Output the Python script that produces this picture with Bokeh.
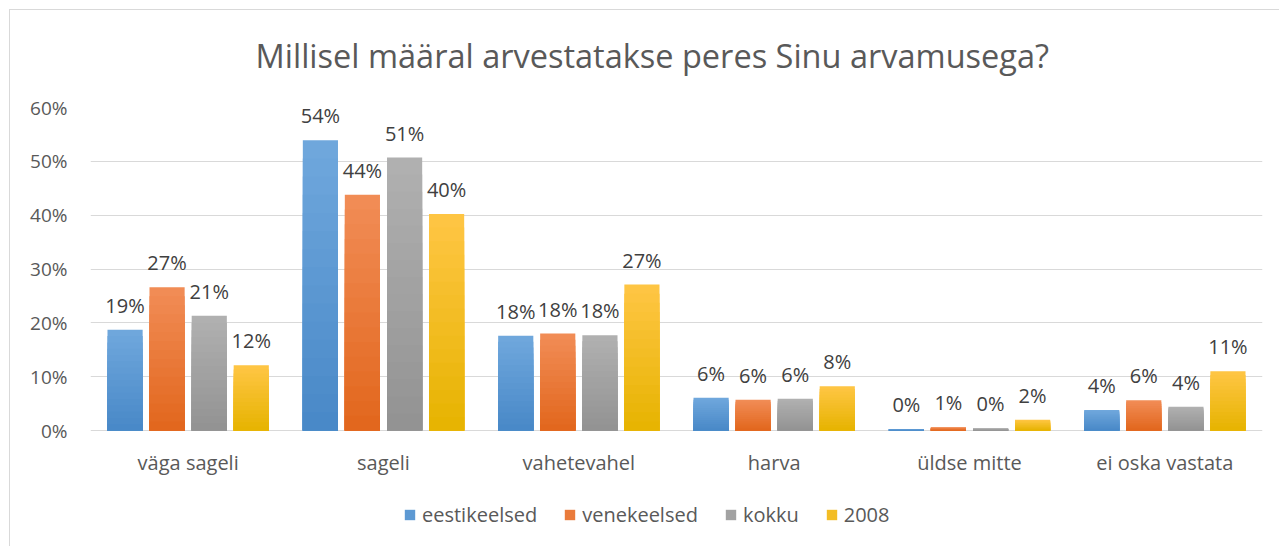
from bokeh.plotting import figure
from bokeh.models import ColumnDataSource, FactorRange, Legend, LegendItem, NumeralTickFormatter, FixedTicker
from bokeh.transform import dodge
from bokeh.core.properties import value
from bokeh.embed import file_html
from bokeh.resources import INLINE

categories = ["väga sageli", "sageli", "vahetevahel", "harva", "üldse mitte", "ei oska vastata"]
series = ["eestikeelsed", "venekeelsed", "kokku", "2008"]
eestikeelsed = [0.187, 0.539, 0.176, 0.061, 0.003, 0.038]
venekeelsed = [0.266, 0.438, 0.180, 0.057, 0.006, 0.056]
kokku = [0.213, 0.507, 0.177, 0.059, 0.004, 0.044]
y2008 = [0.121, 0.402, 0.271, 0.082, 0.020, 0.110]
# bar gradient: (bottom colour, top colour) per series
colors_bottom = ["#4888c7", "#e2661c", "#929292", "#e6b300"]
colors_top = ["#70a8dd", "#f18d57", "#b1b1b1", "#ffc645"]
yticks = [0, 0.1, 0.2, 0.3, 0.4, 0.5, 0.6]

FONT = "Open Sans"
W, H = 1279, 546
TOP, BOTTOM_PAD, LEFT, RIGHT = 107, 8, 90, 17
ZERO_Y = 430  # pixel row of the 0% line
YMAX = 0.6
ymin = -YMAX * ((H - BOTTOM_PAD) - ZERO_Y) / (ZERO_Y - TOP)
NSTEP = 16


def blend(c1, c2, t):
    a = [int(c1[i:i + 2], 16) for i in (1, 3, 5)]
    b = [int(c2[i:i + 2], 16) for i in (1, 3, 5)]
    return "#%02x%02x%02x" % tuple(round(x + (y - x) * t) for x, y in zip(a, b))


data = {"cat": categories, "base": [0.0] * len(categories)}
for name, vals in zip(series, [eestikeelsed, venekeelsed, kokku, y2008]):
    data[name] = vals
    data[name + "_lbl"] = [f"{round(v * 100):d}%" for v in vals]
    for k in range(NSTEP):
        data[f"{name}_s{k}"] = [v * (k + 1) / NSTEP for v in vals]
src = ColumnDataSource(data)

p = figure(x_range=FactorRange(*categories, range_padding=0), y_range=(ymin, YMAX),
           width=W, height=H, output_backend="svg", toolbar_location=None,
           min_border_left=LEFT, min_border_right=RIGHT, min_border_top=TOP,
           min_border_bottom=BOTTOM_PAD, border_fill_color=None, background_fill_color=None)
p.styles = {"background": "linear-gradient(#d9d9d9,#d9d9d9) 9px 9px / 1px 100% no-repeat, "
                          "linear-gradient(#d9d9d9,#d9d9d9) 9px 9px / 100% 1px no-repeat, white"}
p.outline_line_color = None

p.title.text = "Millisel määral arvestatakse peres Sinu arvamusega?"
p.title.align = "left"
p.title.offset = 165
p.title.text_font = FONT
p.title.text_font_style = "normal"
p.title.text_font_size = "32.5px"
p.title.text_color = "#595959"
p.title.standoff = 59

offsets = [-0.323, -0.108, 0.108, 0.323]
items = []
for name, cb, ct, off in zip(series, colors_bottom, colors_top, offsets):
    xs = dodge("cat", off, range=p.x_range)
    legend_r = None
    for k in reversed(range(NSTEP)):
        col = blend(cb, ct, (k + 0.5) / NSTEP)
        r = p.vbar(x=xs, top=f"{name}_s{k}", bottom="base", width=0.18,
                   source=src, fill_color=col, line_color=None)
        if k == NSTEP // 2:
            legend_r = r
    items.append(LegendItem(label=name, renderers=[legend_r]))
    p.text(x=xs, y=name, text=name + "_lbl", source=src,
           text_align="center", text_baseline="bottom", y_offset=-11,
           text_font=value(FONT), text_font_size="20px", text_color="#404040")

# category labels under the 0% line
p.text(x="cat", y="base", text="cat", source=src, text_align="center", text_baseline="middle",
       y_offset=32, text_font=value(FONT), text_font_size="20px", text_color="#595959")

p.xaxis.visible = False
p.yaxis.ticker = FixedTicker(ticks=yticks)
p.yaxis.formatter = NumeralTickFormatter(format="0%")
p.yaxis.axis_line_color = None
p.yaxis.major_tick_line_color = None
p.yaxis.major_tick_out = 0
p.yaxis.major_tick_in = 0
p.yaxis.minor_tick_line_color = None
p.yaxis.major_label_text_font = FONT
p.yaxis.major_label_text_font_size = "19px"
p.yaxis.major_label_text_color = "#595959"
p.yaxis.major_label_standoff = 23
p.xgrid.grid_line_color = None
p.ygrid.grid_line_color = "#d9d9d9"
p.ygrid.grid_line_width = 1

legend = Legend(items=items, orientation="horizontal", location=(313, 10),
                label_text_font=FONT, label_text_font_size="20px", label_text_color="#595959",
                glyph_width=13, glyph_height=13, spacing=26, label_standoff=6, label_height=20,
                border_line_color=None, background_fill_alpha=0, margin=0, padding=0)
p.add_layout(legend, "center")

open("out.html", "w").write(file_html(p, INLINE))
